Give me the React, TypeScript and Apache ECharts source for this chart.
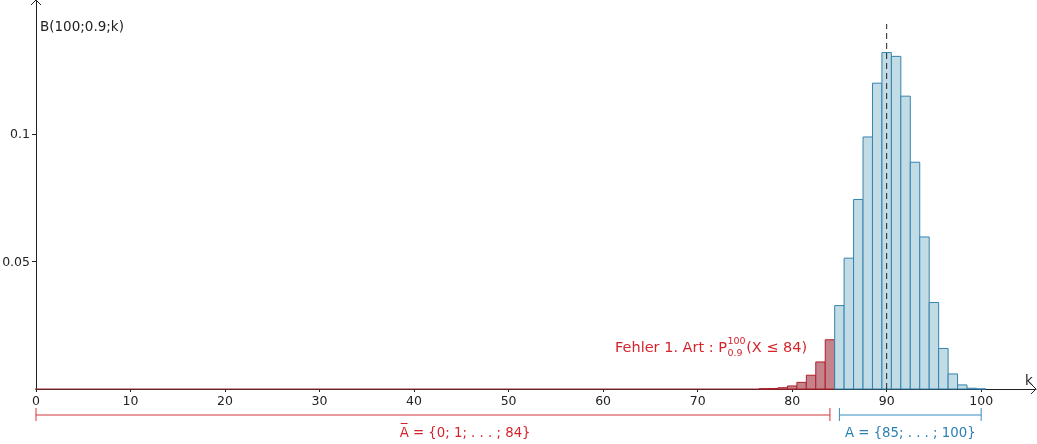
import { useEffect, useRef } from "react";
import * as echarts from "echarts";

// k values and probabilities B(100;0.9;k)
const redK = [77, 78, 79, 80, 81, 82, 83, 84];
const redValues = [0.0001, 0.0002, 0.0005, 0.0012, 0.0026, 0.0054, 0.0106, 0.0193];
const blueK = [85, 86, 87, 88, 89, 90, 91, 92, 93, 94, 95, 96, 97, 98, 99, 100];
const blueValues = [
  0.0327, 0.0513, 0.0743, 0.0988, 0.1199, 0.1319, 0.1304, 0.1148, 0.0889, 0.0596, 0.0339,
  0.0159, 0.0059, 0.0016, 0.0003, 0.00003,
];
const xTickValues = [0, 10, 20, 30, 40, 50, 60, 70, 80, 90, 100];
const yTickValues = [0.05, 0.1];
const muValue = 90;
const muTop = 0.1431;
const rejectRange = [0, 84];
const acceptRange = [85, 100];
const rejectLabelX = 45.4;
const acceptLabelX = 92.5;
const rejectLabel = "A\u0305 = {0; 1; . . . ; 84}";
const acceptLabel = "A = {85; . . . ; 100}";
const errorWords = ["Fehler", "1.", "Art", ":", "P"];
const errorSup = "100";
const errorSub = "0.9";
const errorSuffix = "(X \u2264 84)";

const FONT = "DejaVu Sans";
const RED_TEXT = "#d4252c";
const BLUE_TEXT = "#2b80b2";

function measure(text: string, font: string): number {
  const c = document.createElement("canvas").getContext("2d");
  if (!c) return text.length * 7;
  c.font = font;
  return c.measureText(text).width;
}

export default function App() {
  const ref = useRef<HTMLDivElement>(null);

  useEffect(() => {
    const chart = echarts.init(ref.current!, null, { renderer: "svg" });

    const barRender = (fill: string, stroke: string) => (_p: any, api: any) => {
      const k = api.value(0);
      const v = api.value(1);
      const a = api.coord([k - 0.5, v]);
      const b = api.coord([k + 0.5, 0]);
      return {
        type: "rect",
        shape: { x: a[0], y: a[1], width: b[0] - a[0], height: b[1] - a[1] },
        style: { fill, stroke, lineWidth: 1 },
      };
    };

    const ranges = [
      { r: rejectRange, lx: rejectLabelX, text: rejectLabel, line: "#d0343a", color: RED_TEXT },
      { r: acceptRange, lx: acceptLabelX, text: acceptLabel, line: "#3a8cc0", color: BLUE_TEXT },
    ];

    // layout of the "Fehler 1. Art" annotation (words spread over the reference width)
    const mainFont = `14.5px "${FONT}"`;
    const smallFont = `9.5px "${FONT}"`;
    const x0 = 615;
    const prefixWidth = 112;
    const wordWidths = errorWords.map((w) => measure(w, mainFont));
    const gap = (prefixWidth - wordWidths.reduce((a, b) => a + b, 0)) / (errorWords.length - 1);
    const wordEls: any[] = [];
    let cx = x0;
    errorWords.forEach((w, i) => {
      wordEls.push({ type: "text", x: cx, y: 347, style: { text: w, font: mainFont, fill: RED_TEXT, verticalAlign: "middle" } });
      cx += wordWidths[i] + (i < errorWords.length - 1 ? gap : 0);
    });
    const xP = cx + 0.5;
    const xS = xP + Math.max(measure(errorSup, smallFont), measure(errorSub, smallFont)) + 0.5;

    chart.setOption({
      animation: false,
      grid: { left: 36, right: 1, top: 0, bottom: 55, containLabel: false, outerBoundsMode: "none" },
      xAxis: {
        type: "value",
        min: 0,
        max: 105.8,
        splitLine: { show: false },
        axisLine: { show: true, onZero: true, lineStyle: { color: "#222", width: 1 } },
        axisTick: { show: true, length: 3, customValues: xTickValues, lineStyle: { color: "#222" } },
        axisLabel: {
          customValues: xTickValues,
          fontSize: 12.5,
          fontFamily: FONT,
          color: "#222",
          margin: 5,
        },
      },
      yAxis: {
        type: "value",
        min: 0,
        max: 0.1525,
        splitLine: { show: false },
        axisLine: { show: true, onZero: false, lineStyle: { color: "#222", width: 1 } },
        axisTick: { show: true, length: 4, customValues: yTickValues, lineStyle: { color: "#222" } },
        axisLabel: {
          customValues: yTickValues,
          fontSize: 12.5,
          fontFamily: FONT,
          color: "#222",
          margin: 6,
          formatter: (v: number) => String(v),
        },
      },
      series: [
        {
          type: "line",
          clip: false,
          data: [
            [rejectRange[0] - 0.5, 0],
            [rejectRange[1] + 0.5, 0],
          ],
          symbol: "none",
          lineStyle: { color: "#9e2a30", width: 1 },
          z: 3,
        },
        {
          type: "custom",
          data: redK.map((k, i) => [k, redValues[i]]),
          renderItem: barRender("#c4838a", "#b01e2a"),
          z: 4,
        },
        {
          type: "custom",
          data: blueK.map((k, i) => [k, blueValues[i]]),
          renderItem: barRender("#c2dce6", "#3583b0"),
          z: 4,
        },
        {
          type: "line",
          data: [
            [muValue, 0],
            {
              value: [muValue, muTop],
              label: {
                show: true,
                formatter: "\u03bc",
                position: "right",
                distance: 5,
                offset: [0, 4],
                fontSize: 13,
                fontFamily: FONT,
                color: "#222",
              },
            },
          ],
          symbol: "none",
          lineStyle: { color: "#222", width: 1, type: [6, 4] },
          z: 6,
        },
        {
          type: "custom",
          clip: false,
          data: ranges.map((d, i) => [d.r[0], d.r[1], d.lx, i]),
          renderItem: (_p: any, api: any) => {
            const i = api.value(3);
            const d = ranges[i];
            const p0 = api.coord([api.value(0), 0]);
            const p1 = api.coord([api.value(1), 0]);
            const pl = api.coord([api.value(2), 0]);
            const y = p0[1] + 26;
            return {
              type: "group",
              children: [
                { type: "line", shape: { x1: p0[0], y1: y, x2: p1[0], y2: y }, style: { stroke: d.line, lineWidth: 1 } },
                { type: "line", shape: { x1: p0[0], y1: y - 7, x2: p0[0], y2: y + 6 }, style: { stroke: d.line, lineWidth: 1 } },
                { type: "line", shape: { x1: p1[0], y1: y - 7, x2: p1[0], y2: y + 6 }, style: { stroke: d.line, lineWidth: 1 } },
                {
                  type: "text",
                  style: {
                    text: d.text,
                    x: pl[0],
                    y: y + 17,
                    align: "center",
                    verticalAlign: "middle",
                    fill: d.color,
                    font: `13.3px "${FONT}"`,
                  },
                },
              ],
            };
          },
          z: 5,
        },
      ],
      graphic: [
        { type: "polyline", shape: { points: [[1031, 384], [1036, 389], [1031, 394]] }, style: { stroke: "#222", fill: "none", lineWidth: 1 } },
        { type: "polyline", shape: { points: [[31, 5], [36, 0], [41, 5]] }, style: { stroke: "#222", fill: "none", lineWidth: 1 } },
        { type: "text", left: 40, top: 19, style: { text: "B(100;0.9;k)", font: `13.5px "${FONT}"`, fill: "#222" } },
        { type: "text", left: 1025, top: 373, style: { text: "k", font: `13.5px "${FONT}"`, fill: "#222" } },
        {
          type: "group",
          children: [
            ...wordEls,
            { type: "text", x: xP, y: 340.5, style: { text: errorSup, font: smallFont, fill: RED_TEXT, verticalAlign: "middle" } },
            { type: "text", x: xP, y: 352.5, style: { text: errorSub, font: smallFont, fill: RED_TEXT, verticalAlign: "middle" } },
            { type: "text", x: xS, y: 347, style: { text: errorSuffix, font: mainFont, fill: RED_TEXT, verticalAlign: "middle" } },
          ],
        },
      ],
    });

    return () => chart.dispose();
  }, []);

  return <div ref={ref} style={{ position: "fixed", left: 0, top: 0, width: 1037, height: 444 }} />;
}
